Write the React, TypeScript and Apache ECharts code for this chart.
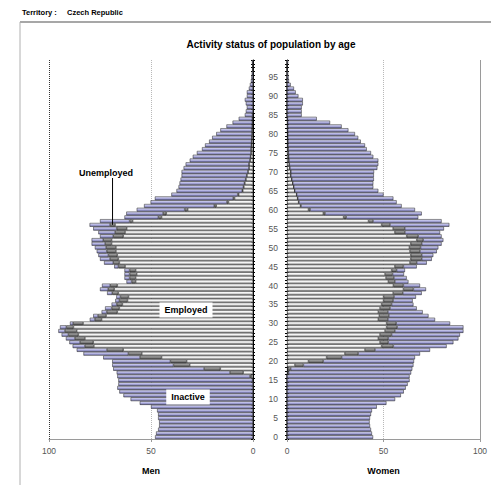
import React, { useEffect, useRef } from 'react';
import * as echarts from 'echarts';

const ages: string[] = Array.from({ length: 100 }, (_, i) => String(i));
const xTicks = [0, 50, 100];

const menEmployed = [
  0, 0, 0, 0, 0, 0, 0, 0, 0, 0,
  0, 0, 0, 0, 0, 0.2, 0.7, 4.8, 16, 31,
  32.5, 44.8, 54.5, 63.6, 78, 78.3, 82.4, 85.6, 86.4, 88,
  83.3, 74.2, 72, 66.5, 65.5, 64, 61.5, 61, 66, 68,
  66.5, 57.5, 57.5, 57, 57.5, 62.7, 65.5, 66, 66.5, 67.2,
  67.2, 69.3, 69.3, 63.6, 62.7, 61.9, 67.6, 59, 44.8, 42.5,
  32, 18, 12, 9, 7, 5, 4.5, 4, 3.5, 3,
  2.5, 2, 2, 1.5, 1.2, 1, 1, 0.8, 0.7, 0.6,
  0.5, 0.5, 0.4, 0.3, 0.3, 0.2, 0, 0, 0, 0,
  0, 0, 0, 0, 0, 0, 0, 0, 0, 0,
];
const menUnemployed = [
  0, 0, 0, 0, 0, 0, 0, 0, 0, 0,
  0, 0, 0, 0, 0, 0, 0.8, 6.5, 8, 8,
  8, 10.6, 6.6, 8, 4.4, 6.5, 4.9, 4.9, 5.8, 3.5,
  4.9, 3.3, 4, 5.2, 3.8, 2.8, 4, 4, 3, 3,
  3.5, 2, 3, 3.5, 3, 3.3, 3, 4.1, 4.4, 4.5,
  4.8, 3.2, 4.1, 4.9, 4.9, 4.9, 2.5, 1.5, 1.6, 1.6,
  1.5, 1, 0.8, 0.7, 0.5, 0.3, 0.2, 0.2, 0.1, 0.1,
  0, 0, 0, 0, 0, 0, 0, 0, 0, 0,
  0, 0, 0, 0, 0, 0, 0, 0, 0, 0,
  0, 0, 0, 0, 0, 0, 0, 0, 0, 0,
];
const menInactive = [
  48, 47.5, 46.5, 46, 46, 46.5, 46.5, 47, 50, 55.5,
  60, 63.5, 65.5, 66.5, 66, 65.8, 65, 55.5, 44.5, 30,
  28.5, 18, 22, 14.8, 6, 5.2, 4.4, 3.3, 3.2, 3.1,
  1.5, 2.5, 2.3, 2.5, 3.2, 2.5, 2, 2, 2.5, 4,
  4, 2.5, 2.5, 2.5, 2.5, 2, 4.5, 4.9, 4.9, 4.9,
  5.5, 6.6, 5.7, 6.5, 8.2, 11.5, 10, 14.5, 16.6, 18,
  23.5, 34.4, 37.4, 38.4, 32.5, 32.2, 31.8, 31.8, 31.9, 31.9,
  32.5, 32, 31, 29.5, 28.3, 26.5, 24, 22.7, 20.8, 19.4,
  17.5, 15.5, 12.6, 9.7, 6.7, 3.8, 3.5, 3, 3.5, 4,
  3, 3, 2, 1.5, 1, 0.8, 0.6, 0.4, 0.3, 0.5,
];

const womenEmployed = [
  0, 0, 0, 0, 0, 0, 0, 0, 0, 0,
  0, 0, 0, 0, 0, 0, 0, 0.3, 0.4, 4.1,
  11.1, 20.5, 30, 40.4, 49, 48.2, 47.3, 48.2, 50.8, 51.6,
  51.6, 47.3, 47.8, 47.3, 48.2, 49, 50, 50, 55, 60.3,
  55.1, 52.5, 51.3, 50.8, 54.2, 55.9, 63.7, 64.1, 64.1, 63.7,
  63.4, 64.1, 67.2, 62, 55.9, 55, 49, 42.2, 29.3, 18.8,
  11.1, 7, 6, 5.5, 5, 4, 3.5, 3, 2.5, 2,
  2, 1.5, 1.2, 1, 0.8, 0.7, 0.6, 0.5, 0.5, 0.4,
  0.4, 0.3, 0.3, 0.3, 0.2, 0, 0, 0, 0, 0,
  0, 0, 0, 0, 0, 0, 0, 0, 0, 0,
];
const womenUnemployed = [
  0, 0, 0, 0, 0, 0, 0, 0, 0, 0,
  0, 0, 0, 0, 0, 0, 0, 0.5, 1.5, 4.4,
  7.7, 7.8, 6.9, 5.2, 6.1, 4.3, 5.2, 6, 5.1, 5.5,
  5, 5, 5, 5, 5.2, 5.2, 5, 5.5, 5, 5.2,
  5.2, 3.4, 4.1, 3.9, 2.6, 4.4, 3.5, 5.7, 5.7, 5.2,
  5.8, 5.7, 3.4, 6, 5.2, 6, 4.4, 2.4, 1.4, 0.9,
  0.9, 0.3, 0.2, 0.1, 0, 0, 0, 0, 0, 0,
  0, 0, 0, 0, 0, 0, 0, 0, 0, 0,
  0, 0, 0, 0, 0, 0, 0, 0, 0, 0,
  0, 0, 0, 0, 0, 0, 0, 0, 0, 0,
];
const womenInactive = [
  44.6, 44, 43.5, 43, 42.8, 43, 43.5, 44, 46.5, 51.5,
  56, 59, 60.5, 61.5, 62.5, 63.5, 63.5, 63.5, 63, 57,
  47, 38, 32, 28.5, 27.6, 33.7, 36.3, 35.4, 35.5, 34.3,
  27.9, 24.4, 20.5, 18, 13.8, 11.3, 10.1, 11.3, 9.8, 6.5,
  8.6, 7, 6.6, 5.9, 4.3, 6.9, 5.2, 5.2, 6, 8.7,
  9.2, 10.3, 10.4, 12.1, 18.2, 20.3, 30.7, 35.5, 37.3, 50.1,
  54.3, 52.1, 50.6, 49.5, 45, 43.3, 41.2, 41.7, 42.5, 43,
  43.1, 45.3, 46.1, 46.3, 43.9, 42.8, 40.7, 39.9, 37.7, 36.5,
  34.8, 31.5, 28, 22, 15.2, 7.6, 7.6, 7.6, 8.2, 8.2,
  5.9, 4.5, 3.6, 1.9, 1, 0.8, 0.6, 0.4, 0.3, 0.6,
];

const FONT = '"Liberation Sans", Arial, sans-serif';

export default function App() {
  const ref = useRef<HTMLDivElement>(null);

  useEffect(() => {
    const el = ref.current;
    if (!el) return;
    const chart = echarts.init(el, null, { renderer: 'svg' });

    const grad = (a: string, m: string, b: string) =>
      new echarts.graphic.LinearGradient(0, 0, 0, 1, [
        { offset: 0, color: a },
        { offset: 0.45, color: m },
        { offset: 1, color: b },
      ]);
    const border = { borderColor: '#222', borderWidth: 0.5 };
    const empStyle = { color: grad('#ffffff', '#f4f4f4', '#9a9a9a'), ...border };
    const unStyle = { color: grad('#bdbdbd', '#8a8a8a', '#444444'), ...border };
    const inStyle = { color: grad('#e2e2f8', '#b4b4e2', '#6c6ca6'), ...border };

    const bar = (name: string, data: number[], idx: number, style: any, extra: any = {}) => ({
      type: 'bar',
      name,
      data,
      xAxisIndex: idx,
      yAxisIndex: idx,
      stack: idx === 0 ? 'men' : 'women',
      barCategoryGap: '0%',
      itemStyle: style,
      silent: true,
      emphasis: { disabled: true },
      ...extra,
    });

    const xAxisBase = (grid: number, inverse: boolean, name: string, splitColors: string[]) => ({
      gridIndex: grid,
      type: 'value',
      min: 0,
      max: 100,
      interval: 50,
      inverse,
      name,
      nameLocation: 'middle',
      nameGap: 27,
      nameTextStyle: { fontWeight: 'bold', fontSize: 9, color: '#000', fontFamily: FONT },
      axisLine: { show: true, lineStyle: { color: '#9a9a9a', width: 1 } },
      axisTick: { show: true, length: 3, lineStyle: { color: '#9a9a9a' } },
      axisLabel: {
        color: '#555',
        fontSize: 8.5,
        margin: 7,
        fontFamily: FONT,
        formatter: (v: number) => (xTicks.includes(v) ? String(v) : ''),
      },
      splitLine: { show: true, lineStyle: { type: 'dotted', width: 1, color: splitColors } },
    });

    const yMain = (grid: number, position: string, showLabel: boolean) => ({
      gridIndex: grid,
      type: 'category',
      data: ages,
      position,
      axisLine: { show: true, lineStyle: { color: '#000', width: 1 } },
      axisTick: { show: true, interval: 0, length: 2, lineStyle: { color: '#000' } },
      axisLabel: {
        show: showLabel,
        interval: 4,
        color: '#555',
        fontSize: 8.5,
        margin: 9,
        fontFamily: FONT,
      },
      splitLine: { show: false },
    });
    const yInner = (grid: number, position: string) => ({
      gridIndex: grid,
      type: 'category',
      data: ages,
      position,
      axisLine: { show: false },
      axisTick: { show: true, inside: true, interval: 0, length: 2, lineStyle: { color: '#000' } },
      axisLabel: { show: false },
      splitLine: { show: false },
    });

    chart.setOption({
      animation: false,
      backgroundColor: '#ffffff',
      textStyle: { fontFamily: FONT },
      grid: [
        { left: 49, top: 60, width: 204, height: 379, containLabel: false },
        { left: 287, top: 60, width: 193, height: 379, containLabel: false },
      ],
      xAxis: [
        xAxisBase(0, true, 'Men', ['rgba(0,0,0,0)', '#b8b8b8', '#333333']),
        xAxisBase(1, false, 'Women', ['rgba(0,0,0,0)', '#b8b8b8', 'rgba(0,0,0,0)']),
      ],
      yAxis: [yMain(0, 'right', false), yMain(1, 'left', true), yInner(0, 'right'), yInner(1, 'left')],
      series: [
        bar('Employed', menEmployed, 0, empStyle),
        bar('Unemployed', menUnemployed, 0, unStyle),
        bar('Inactive', menInactive, 0, inStyle),
        bar('Employed', womenEmployed, 1, empStyle),
        bar('Unemployed', womenUnemployed, 1, unStyle),
        bar('Inactive', womenInactive, 1, inStyle, {
          markLine: {
            silent: true,
            symbol: ['none', 'none'],
            label: { show: false },
            lineStyle: { type: 'solid', color: '#9a9a9a', width: 1 },
            data: [{ xAxis: 100 }],
          },
        }),
      ],
    });

    const ageIdx = 56;
    const target = menEmployed[ageIdx] + menUnemployed[ageIdx] / 2;
    const p = chart.convertToPixel({ xAxisIndex: 0, yAxisIndex: 0 }, [target, ageIdx]) as number[];

    const txt = (text: string, x: number, y: number, size: number, align: string, bg?: boolean) => ({
      type: 'text',
      x,
      y,
      silent: true,
      z: 100,
      style: {
        text,
        fill: '#000',
        font: `bold ${size}px ${FONT}`,
        textAlign: align,
        textVerticalAlign: 'middle',
        align,
        verticalAlign: 'middle',
        ...(bg ? { backgroundColor: '#ffffff', padding: [3, 5] } : {}),
      },
    });

    chart.setOption({
      graphic: {
        elements: [
          { type: 'line', silent: true, shape: { x1: 20, y1: 22, x2: 491, y2: 22 }, style: { stroke: '#8a8a8a', lineWidth: 1.5 } },
          { type: 'line', silent: true, shape: { x1: 20, y1: 22, x2: 20, y2: 485 }, style: { stroke: '#b0b0b0', lineWidth: 1 } },
          txt('Territory :', 22, 12, 7.5, 'left'),
          txt('Czech Republic', 67, 12, 7.5, 'left'),
          txt('Activity status of population by age', 271, 44, 10, 'center'),
          txt('Unemployed', 106, 173, 9, 'center'),
          { type: 'line', silent: true, z: 100, shape: { x1: p[0], y1: 178, x2: p[0], y2: p[1] }, style: { stroke: '#000', lineWidth: 1 } },
          txt('Employed', 186, 310, 9, 'center', true),
          txt('Inactive', 188, 397, 9, 'center', true),
        ],
      },
    });

    return () => chart.dispose();
  }, []);

  return (
    <div
      ref={ref}
      style={{ position: 'absolute', left: 0, top: 0, width: 491, height: 485, background: '#fff' }}
    />
  );
}
